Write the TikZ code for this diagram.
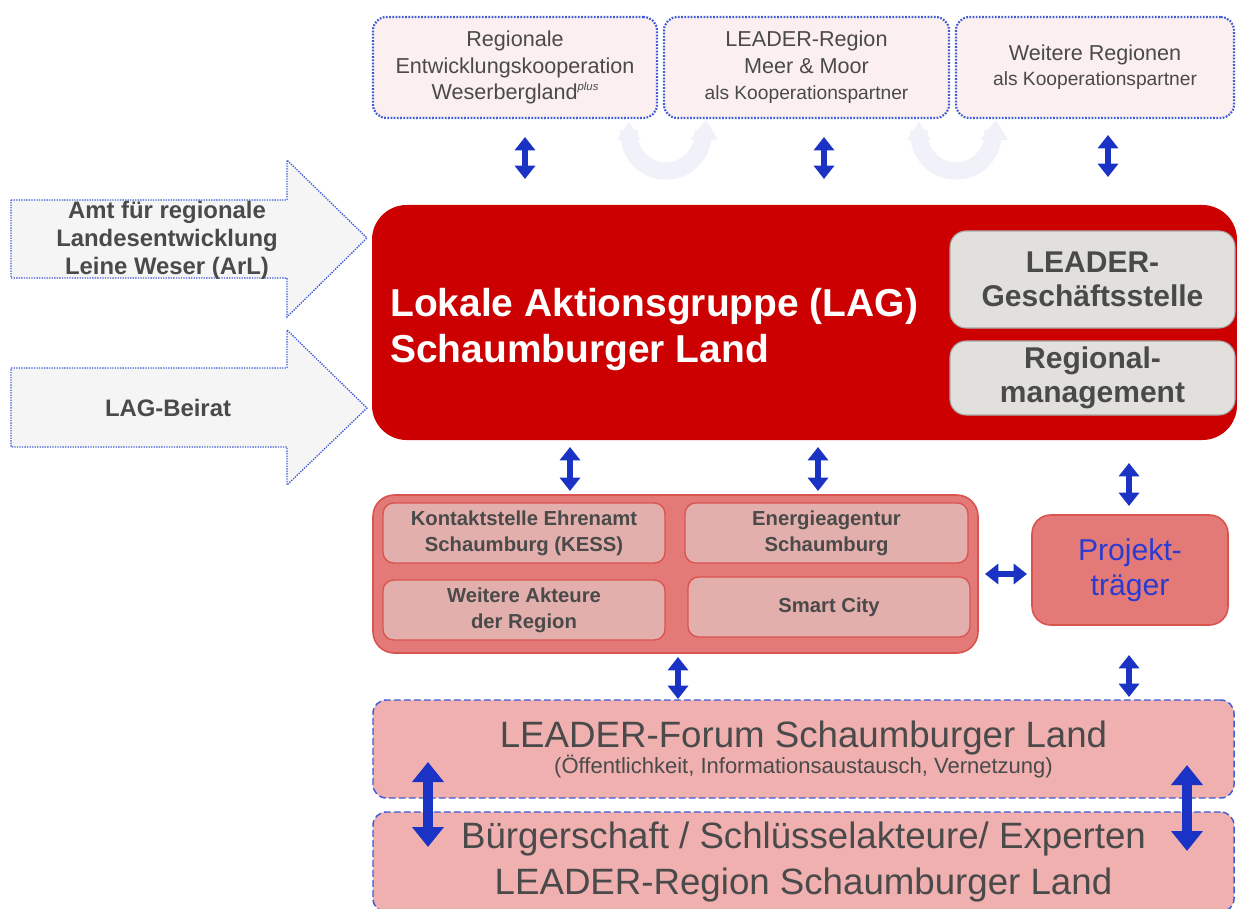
\documentclass[tikz,border=0pt]{standalone}
\usepackage{fontspec}
\setmainfont{Liberation Sans}
\usetikzlibrary{arrows.meta}
\definecolor{ablue}{HTML}{1A33C4}
\definecolor{dotblue}{HTML}{3F5AD6}
\definecolor{topfill}{HTML}{FBEFEF}
\definecolor{txtgray}{HTML}{4A4A4A}
\definecolor{lagred}{HTML}{CC0000}
\definecolor{grayfill}{HTML}{E1E0DC}
\definecolor{grayline}{HTML}{A8A8A8}
\definecolor{salmon}{HTML}{E47A78}
\definecolor{salmonline}{HTML}{D9534F}
\definecolor{innerfill}{HTML}{E2AFAC}
\definecolor{forumfill}{HTML}{F0B0B0}
\definecolor{faint}{HTML}{F1F2F9}
\definecolor{arrowfill}{HTML}{F5F5F5}
\definecolor{ptblue}{HTML}{2B3BD0}
\tikzset{
  topbox/.style={draw=dotblue, fill=topfill, line width=1.6pt, dash pattern=on 1.3pt off 1.1pt, rounded corners=10pt, align=center, text=txtgray, inner sep=0pt},
  graybox/.style={draw=grayline, fill=grayfill, line width=0.8pt, rounded corners=12pt, align=center, text=txtgray, font=\fontsize{22.5}{25.5}\selectfont\bfseries, inner sep=0pt},
  innerbox/.style={draw=salmonline, fill=innerfill, line width=1pt, rounded corners=8pt, align=center, text=txtgray, font=\fontsize{15.2}{19.5}\selectfont\bfseries, inner sep=0pt, minimum height=45pt},
  dashbox/.style={draw=dotblue, fill=forumfill, line width=1.1pt, dash pattern=on 5pt off 2.5pt, rounded corners=10pt, align=center, text=txtgray, inner sep=0pt},
  bigarrow/.style={draw=dotblue, fill=arrowfill, line width=1pt, dash pattern=on 1pt off 0.9pt},
  dbl/.style={draw=ablue, line width=4.8pt, {Triangle[length=10pt,width=15pt]}-{Triangle[length=10pt,width=15pt]}},
  dblbig/.style={draw=ablue, line width=8pt, {Triangle[length=15pt,width=23pt]}-{Triangle[length=15pt,width=23pt]}},
  faintarc/.style={draw=faint, line width=13pt}
}
\begin{document}
\begin{tikzpicture}[x=0.75pt,y=-0.75pt]
\useasboundingbox[fill=white] (0,0) rectangle (1237,909);

% faint curved arrows
\foreach \cx in {666,956}{
  \draw[faintarc] (\cx-37,130) -- (\cx-37,134) arc[start angle=180,end angle=0,radius=37] -- (\cx+37,130);
  \fill[faint] (\cx-49,140) -- (\cx-25,140) -- (\cx-37,122) -- cycle;
  \fill[faint] (\cx+24,140) -- (\cx+52,140) -- (\cx+40,120) -- cycle;
}

% top boxes
\node[topbox, minimum width=213pt, minimum height=75.75pt, font=\fontsize{16.2}{20}\selectfont] (t1) at (515,67.5) {Regionale\\Entwicklungskooperation\\Weserbergland\raisebox{0.45em}{\fontsize{8.5}{9}\selectfont\itshape plus}};
\node[topbox, minimum width=213.75pt, minimum height=75.75pt, font=\fontsize{16.2}{20}\selectfont] (t2) at (806.5,67.5) {LEADER-Region\\Meer \& Moor\\{\fontsize{14.4}{18}\selectfont als Kooperationspartner}};
\node[topbox, minimum width=208.5pt, minimum height=75.75pt, font=\fontsize{16.2}{19}\selectfont] (t3) at (1095,67.5) {Weitere Regionen\\{\fontsize{14.4}{18}\selectfont als Kooperationspartner}};

% arrows top
\coordinate (u1a) at (525,137); \coordinate (u1b) at (525,179);
\coordinate (u2a) at (824,137); \coordinate (u2b) at (824,179);
\coordinate (u3a) at (1108,135); \coordinate (u3b) at (1108,177);
\draw[dbl] (u1a) -- (u1b);
\draw[dbl] (u2a) -- (u2b);
\draw[dbl] (u3a) -- (u3b);

% main LAG box
\node[draw=none, fill=lagred, rounded corners=26pt, minimum width=648.75pt, minimum height=176.25pt, inner sep=0pt] (lag) at (804.5,322.5) {};
\node[anchor=west, text=white, align=left, font=\fontsize{29.2}{34.5}\selectfont\bfseries, inner sep=0pt] (lagt) at (390,330) {Lokale Aktionsgruppe (LAG)\\Schaumburger Land};
\node[graybox, minimum width=213.75pt, minimum height=72.75pt] (gs) at (1092.5,279.5) {LEADER-\\Geschäftsstelle};
\node[graybox, minimum width=213.75pt, minimum height=55.5pt] (rm) at (1092.5,378) {Regional-\\management};

% left arrows
\draw[bigarrow] (11,200) -- (287,200) -- (287,160) -- (367,238) -- (287,317) -- (287,278) -- (11,278) -- cycle;
\node[text=txtgray, align=center, font=\fontsize{17.9}{21}\selectfont\bfseries, inner sep=0pt] (arl) at (167,240) {Amt für regionale\\Landesentwicklung\\Leine Weser (ArL)};
\draw[bigarrow] (11,368) -- (287,368) -- (287,330) -- (367,408) -- (287,485) -- (287,447) -- (11,447) -- cycle;
\node[text=txtgray, font=\fontsize{17.9}{21}\selectfont\bfseries, inner sep=0pt] (beirat) at (168,408) {LAG-Beirat};

% middle arrows
\coordinate (m1a) at (570,447); \coordinate (m1b) at (570,491);
\coordinate (m2a) at (818,447); \coordinate (m2b) at (818,491);
\coordinate (m3a) at (1129,463); \coordinate (m3b) at (1129,506);
\draw[dbl] (m1a) -- (m1b);
\draw[dbl] (m2a) -- (m2b);
\draw[dbl] (m3a) -- (m3b);

% group
\node[draw=salmonline, fill=salmon, line width=1.2pt, rounded corners=16pt, minimum width=453.75pt, minimum height=118.5pt, inner sep=0pt] (grp) at (675.5,574) {};
\node[innerbox, minimum width=211.5pt] (k1) at (524,533) {Kontaktstelle Ehrenamt\\Schaumburg (KESS)};
\node[innerbox, minimum width=212.25pt] (k2) at (826.5,533) {Energieagentur\\Schaumburg};
\node[innerbox, minimum width=211.5pt] (k3) at (524,610) {Weitere Akteure\\der Region};
\node[innerbox, minimum width=211.5pt] (k4) at (829,607) {Smart City};

% Projekttraeger
\node[draw=salmonline, fill=salmon, line width=1.2pt, rounded corners=14pt, minimum width=147pt, minimum height=82.5pt, align=center, text=ptblue, font=\fontsize{22.6}{26}\selectfont, inner sep=0pt] (pt) at (1130,570) {Projekt-\\träger};
\coordinate (h1a) at (985,574); \coordinate (h1b) at (1027,574);
\draw[dbl] (h1a) -- (h1b);

% lower arrows
\coordinate (l1a) at (678,657); \coordinate (l1b) at (678,699);
\coordinate (l2a) at (1129,655); \coordinate (l2b) at (1129,697);
\draw[dbl] (l1a) -- (l1b);
\draw[dbl] (l2a) -- (l2b);

% bottom boxes
\node[dashbox, minimum width=645.75pt, minimum height=73.5pt] (fo) at (803.5,749) {{\fontsize{27.5}{30}\selectfont LEADER-Forum Schaumburger Land}\\[-1pt]{\fontsize{16.5}{19}\selectfont (Öffentlichkeit, Informationsaustausch, Vernetzung)}};
\node[dashbox, minimum width=645.75pt, minimum height=75pt, font=\fontsize{27.5}{34}\selectfont] (bu) at (803.5,862) {Bürgerschaft / Schlüsselakteure/ Experten\\LEADER-Region Schaumburger Land};

% big arrows
\coordinate (b1a) at (428,762); \coordinate (b1b) at (428,847);
\coordinate (b2a) at (1187,765); \coordinate (b2b) at (1187,851);
\draw[dblbig] (b1a) -- (b1b);
\draw[dblbig] (b2a) -- (b2b);
\end{tikzpicture}
\end{document}
